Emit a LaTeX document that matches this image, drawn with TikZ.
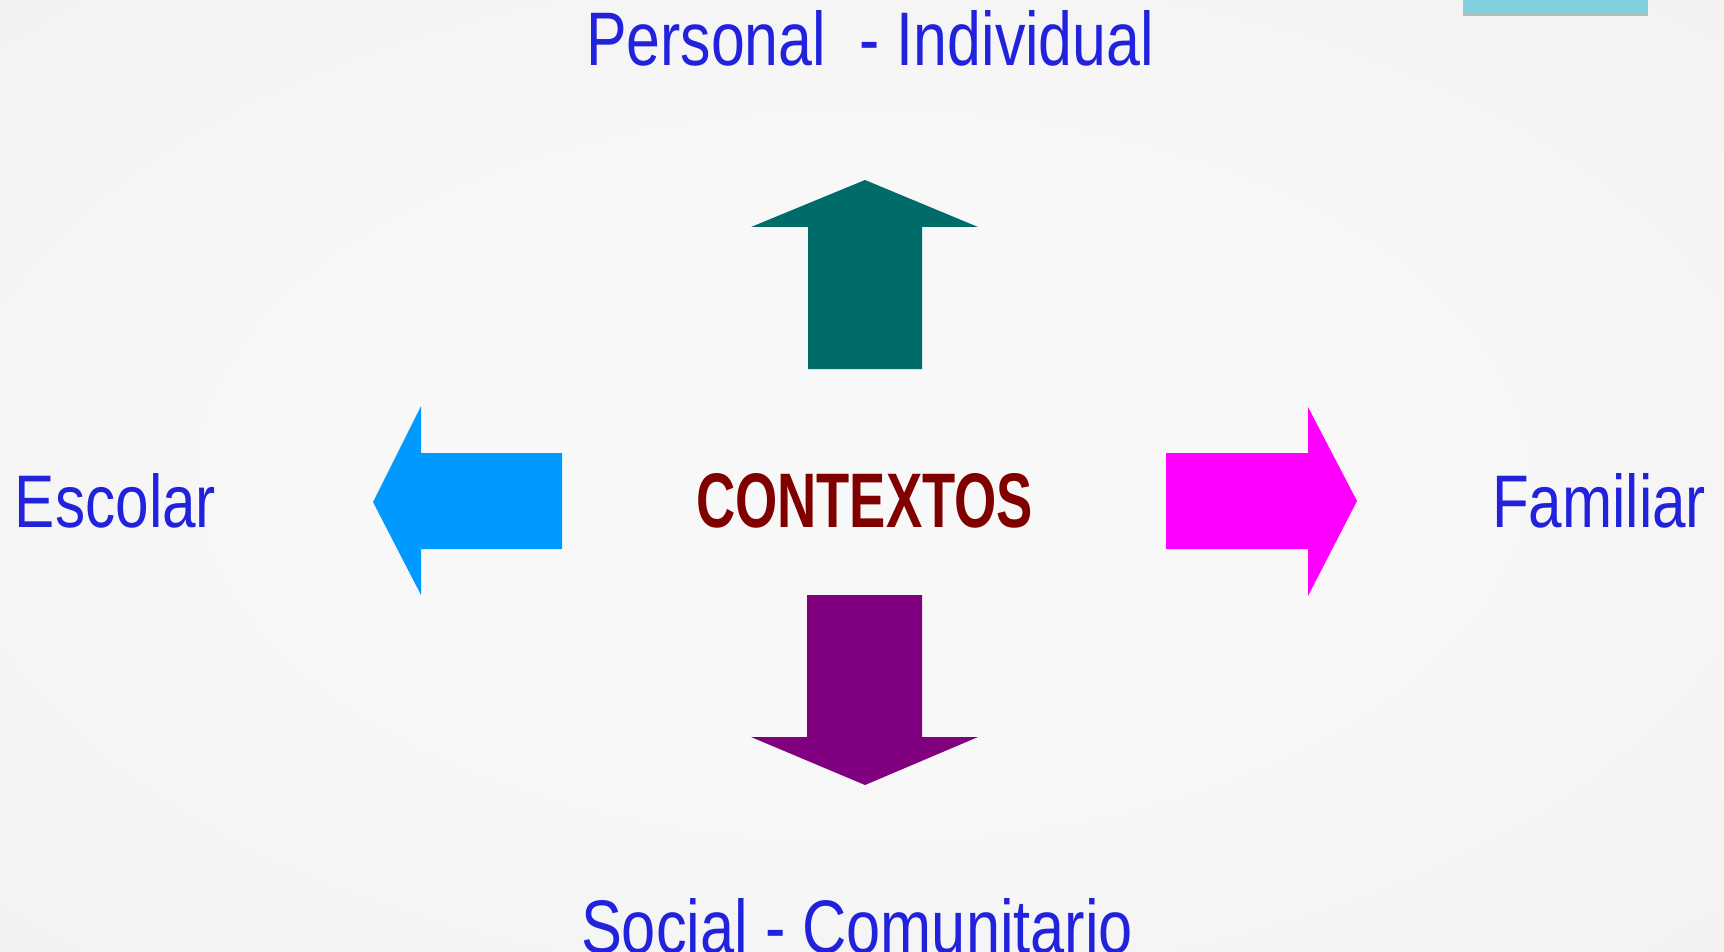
\documentclass[tikz,border=0pt]{standalone}
\usepackage{graphicx}
\usepackage{fontspec}
\setmainfont{Liberation Sans}
\usetikzlibrary{shadows}
\definecolor{lbl}{RGB}{34,34,221}
\definecolor{ctx}{RGB}{128,0,0}
\definecolor{upc}{RGB}{0,108,106}
\definecolor{leftc}{RGB}{0,153,255}
\definecolor{rightc}{RGB}{255,0,255}
\definecolor{downc}{RGB}{128,0,128}
\definecolor{boxc}{RGB}{128,208,222}
\definecolor{bgin}{RGB}{248,248,248}
\definecolor{bgmid}{RGB}{238,238,238}
\definecolor{bgout}{RGB}{228,228,228}
\pgfdeclareradialshading{bgshade}{\pgfpoint{0bp}{0bp}}{color(0bp)=(bgin); color(14bp)=(bgin); color(50bp)=(bgmid); color(72bp)=(bgout)}
\newcommand{\fitbox}[3]{\resizebox{#1pt}{#2pt}{#3}}
\tikzset{
  lab/.style={inner sep=0pt, outer sep=0pt, anchor=base west, text=lbl},
  arrowshape/.style={draw=none}
}
\begin{document}
\begin{tikzpicture}[x=1pt,y=-1pt]
\useasboundingbox (0,0) rectangle (1724,952);
\clip (0,0) rectangle (1724,952);
\shade[shading=bgshade] (0,0) rectangle (1724,952);
% top-right box
\fill[boxc, drop shadow={shadow xshift=0pt, shadow yshift=-3pt, opacity=0.5}] (1463,-20) rectangle (1648,13);
% arrows
\fill[upc] (865,180) -- (978,227) -- (922,227) -- (922,369) -- (808,369) -- (808,227) -- (751,227) -- cycle;
\fill[downc] (865,785) -- (978,737) -- (922,737) -- (922,595) -- (807,595) -- (807,737) -- (751,737) -- cycle;
\fill[leftc] (373,502) -- (421,406) -- (421,453) -- (562,453) -- (562,549) -- (421,549) -- (421,595) -- cycle;
\fill[rightc] (1357,501) -- (1308,407) -- (1308,453) -- (1166,453) -- (1166,549) -- (1308,549) -- (1308,596) -- cycle;
% texts
\node[lab] (personal) at (586,66) {\fitbox{568}{55}{Personal\ \ - Individual}};
\node[lab] (escolar) at (15,527) {\fitbox{201}{54}{Escolar}};
\node[lab] (familiar) at (1492,527) {\fitbox{214}{54}{Familiar}};
\node[lab] (social) at (581,953) {\fitbox{552}{55}{Social - Comunitario}};
\node[inner sep=0pt, outer sep=0pt, anchor=base west, text=ctx] (ctx) at (696,527) {\fitbox{337}{54}{\bfseries CONTEXTOS}};
\end{tikzpicture}
\end{document}
